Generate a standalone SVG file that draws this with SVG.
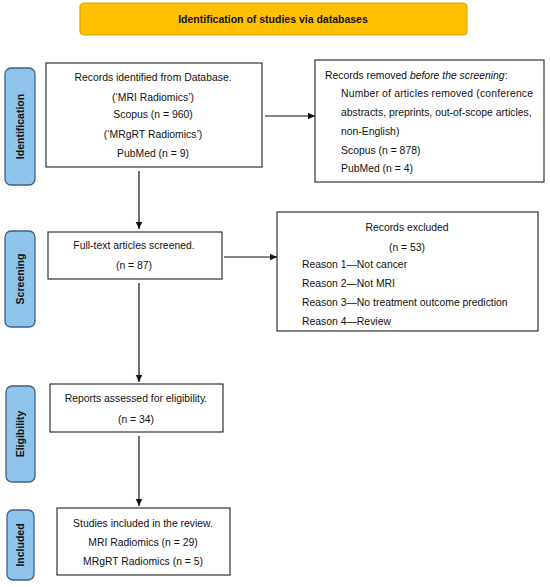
<svg xmlns="http://www.w3.org/2000/svg" width="550" height="587" viewBox="0 0 550 587">
<style>
text{font-family:"Liberation Sans",Arial,sans-serif;font-size:10.4px;fill:#111}
.box{fill:#fff;stroke:#333;stroke-width:1.2}
.ph{fill:#8EC4EC;stroke:#3F5F80;stroke-width:1.3}
.pt{font-weight:bold;font-size:10.5px}
.c{text-anchor:middle}
.ln{stroke:#111;stroke-width:1.2;fill:none}
</style>
<defs>
<marker id="ah" markerWidth="8" markerHeight="8" refX="7" refY="4" orient="auto" markerUnits="userSpaceOnUse">
<path d="M0,0.8 L7,4 L0,7.2 Z" fill="#111"/>
</marker>
</defs>
<rect width="550" height="587" fill="#fff"/>
<g id="banner">
<rect x="80" y="3" width="387" height="32" rx="4" fill="#FFC000" stroke="#D8A800" stroke-width="1.2"/>
<text x="273" y="23" class="c" style="font-weight:bold;font-size:10.5px">Identification of studies via databases</text>
</g>
<g id="phase-identification">
<rect x="5" y="68" width="30" height="117" rx="6" class="ph"/>
<text class="pt c" transform="translate(24,126.5) rotate(-90)">Identification</text>
</g>
<g id="phase-screening">
<rect x="5" y="231" width="30" height="96" rx="6" class="ph"/>
<text class="pt c" transform="translate(24,279) rotate(-90)">Screening</text>
</g>
<g id="phase-eligibility">
<rect x="6" y="386" width="29" height="96" rx="6" class="ph"/>
<text class="pt c" transform="translate(24,434) rotate(-90)">Eligibility</text>
</g>
<g id="phase-included">
<rect x="7" y="510" width="27" height="70" rx="6" class="ph"/>
<text class="pt c" transform="translate(24,545) rotate(-90)">Included</text>
</g>
<g id="records-identified">
<rect x="46" y="63" width="216" height="104" class="box"/>
<text x="153" y="81" class="c">Records identified from Database.</text>
<text x="153" y="101" class="c">(‘MRI Radiomics’)</text>
<text x="153" y="118" class="c">Scopus (n = 960)</text>
<text x="153" y="138" class="c">(‘MRgRT Radiomics’)</text>
<text x="153" y="157" class="c">PubMed (n = 9)</text>
</g>
<g id="records-removed">
<rect x="315" y="60" width="229" height="122" class="box"/>
<text x="325" y="79">Records removed <tspan font-style="italic">before the screening</tspan>:</text>
<text x="341" y="97" textLength="192" lengthAdjust="spacing">Number of articles removed (conference</text>
<text x="341" y="116">abstracts, preprints, out-of-scope articles,</text>
<text x="341" y="135">non-English)</text>
<text x="341" y="154">Scopus (n = 878)</text>
<text x="341" y="172">PubMed (n = 4)</text>
</g>
<g id="full-text-screened">
<rect x="48" y="232" width="174" height="47" class="box"/>
<text x="134" y="249" class="c">Full-text articles screened.</text>
<text x="134" y="269" class="c">(n = 87)</text>
</g>
<g id="records-excluded">
<rect x="277" y="212" width="261" height="119" class="box"/>
<text x="407" y="231" class="c">Records excluded</text>
<text x="407" y="251" class="c">(n = 53)</text>
<text x="302" y="268">Reason 1—Not cancer</text>
<text x="302" y="287">Reason 2—Not MRI</text>
<text x="302" y="306">Reason 3—No treatment outcome prediction</text>
<text x="302" y="325">Reason 4—Review</text>
</g>
<g id="reports-assessed">
<rect x="50" y="384" width="173" height="48" class="box"/>
<text x="136" y="402" class="c">Reports assessed for eligibility.</text>
<text x="136" y="423" class="c">(n = 34)</text>
</g>
<g id="studies-included">
<rect x="57" y="508" width="173" height="67" class="box"/>
<text x="143" y="527" class="c">Studies included in the review.</text>
<text x="143" y="546" class="c">MRI Radiomics (n = 29)</text>
<text x="143" y="565" class="c">MRgRT Radiomics (n = 5)</text>
</g>
<g id="connectors">
<line x1="265" y1="116" x2="315" y2="116" class="ln" marker-end="url(#ah)"/>
<line x1="139" y1="171" x2="139" y2="229" class="ln" marker-end="url(#ah)"/>
<line x1="224" y1="257" x2="277" y2="257" class="ln" marker-end="url(#ah)"/>
<line x1="139" y1="283" x2="139" y2="382" class="ln" marker-end="url(#ah)"/>
<line x1="139" y1="436" x2="139" y2="506" class="ln" marker-end="url(#ah)"/>
</g>
</svg>
